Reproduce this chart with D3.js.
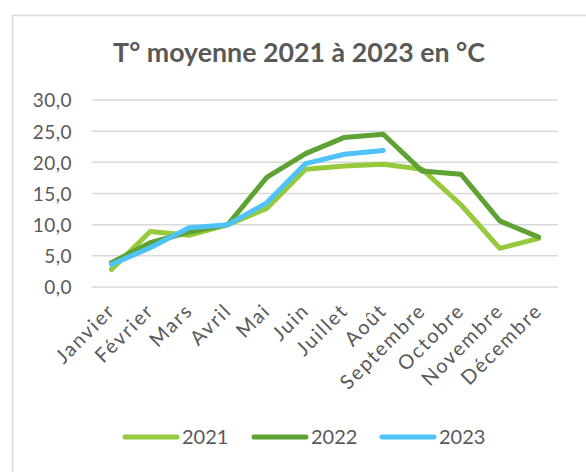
<!DOCTYPE html>
<html><head><meta charset="utf-8">
<script src="https://cdn.jsdelivr.net/npm/d3@7"></script>
<style>html,body{margin:0;padding:0;background:#fff;overflow:hidden}</style>
</head><body>
<svg id="c" width="586" height="472"></svg>
<script>
const months = ["Janvier","Février","Mars","Avril","Mai","Juin","Juillet","Août","Septembre","Octobre","Novembre","Décembre"];
const t2021 = [2.8, 8.9, 8.3, 10.0, 12.6, 18.9, 19.4, 19.7, 18.9, 13.2, 6.2, 7.8];
const t2022 = [3.9, 7.1, 8.8, 10.0, 17.6, 21.4, 24.0, 24.5, 18.6, 18.1, 10.6, 8.0];
const t2023 = [3.6, 6.3, 9.5, 10.0, 13.5, 19.8, 21.3, 21.9];
const yTicks = [0, 5, 10, 15, 20, 25, 30];
const seriesNames = ["2021", "2022", "2023"];
const colors = ["#97C93D", "#5EA233", "#4FC3F7"];
const title = "T° moyenne 2021 à 2023 en °C";

const FONT = "Lato, 'DejaVu Sans', sans-serif";
const TXT = "#595959";
const svg = d3.select("#c");

svg.append("rect").attr("x", 12.5).attr("y", 15.5).attr("width", 700).attr("height", 600)
  .attr("fill", "#fff").attr("stroke", "#d9d9d9").attr("stroke-width", 1.5);

const x = d3.scaleBand().domain(months).range([92, 558]);
const y = d3.scaleLinear().domain([0, 30]).range([287, 100]);

// title fitted to width
const tt = svg.append("text").attr("x", 299).attr("y", 62).attr("text-anchor", "middle")
  .attr("font-family", FONT).attr("font-weight", "bold").attr("fill", TXT)
  .attr("font-size", 22).text(title);
const tw = tt.node().getComputedTextLength();
tt.attr("font-size", 22 * 372 / tw);

// grid
const yAxis = d3.axisLeft(y).tickValues(yTicks).tickSize(0).tickPadding(0)
  .tickFormat(d => d3.format(".1f")(d).replace(".", ","));
const gy = svg.append("g").attr("transform", "translate(72,0)").call(yAxis);
gy.select(".domain").remove();
gy.selectAll("text").attr("font-family", FONT).attr("font-size", 19).attr("fill", TXT)
  .attr("dy", "0.36em").attr("letter-spacing", 0.5);
svg.append("g").selectAll("line").data(yTicks).join("line")
  .attr("x1", 92).attr("x2", 558).attr("y1", d => y(d)).attr("y2", d => y(d))
  .attr("stroke", "#d9d9d9").attr("stroke-width", 1.5);

// x labels
const xAxis = d3.axisBottom(x).tickSize(0).tickPadding(0);
const gx = svg.append("g").call(xAxis);
gx.select(".domain").remove();
gx.selectAll(".tick").attr("transform", d => `translate(${x(d) + x.bandwidth() / 2},307)`);
gx.selectAll("text").attr("font-family", FONT).attr("font-size", 20)
  .attr("letter-spacing", 1.8).attr("fill", TXT)
  .attr("text-anchor", "end").attr("x", 0).attr("y", 0).attr("dy", "0.35em")
  .attr("transform", "rotate(-45)");

// lines
const line = d3.line().x((d, i) => x(months[i]) + x.bandwidth() / 2).y(d => y(d));
[t2021, t2022, t2023].forEach((s, i) => {
  svg.append("path").datum(s).attr("d", line).attr("fill", "none")
    .attr("stroke", colors[i]).attr("stroke-width", 5)
    .attr("stroke-linejoin", "round").attr("stroke-linecap", "round");
});

// legend
const legX = [123, 252, 380];
seriesNames.forEach((n, i) => {
  svg.append("line").attr("x1", legX[i] + 2).attr("x2", legX[i] + 54).attr("y1", 437).attr("y2", 437)
    .attr("stroke", colors[i]).attr("stroke-width", 5).attr("stroke-linecap", "round");
  svg.append("text").attr("x", legX[i] + 59).attr("y", 437).attr("dy", "0.36em")
    .attr("font-family", FONT).attr("font-size", 20).attr("fill", TXT).text(n);
});
</script>
</body></html>
